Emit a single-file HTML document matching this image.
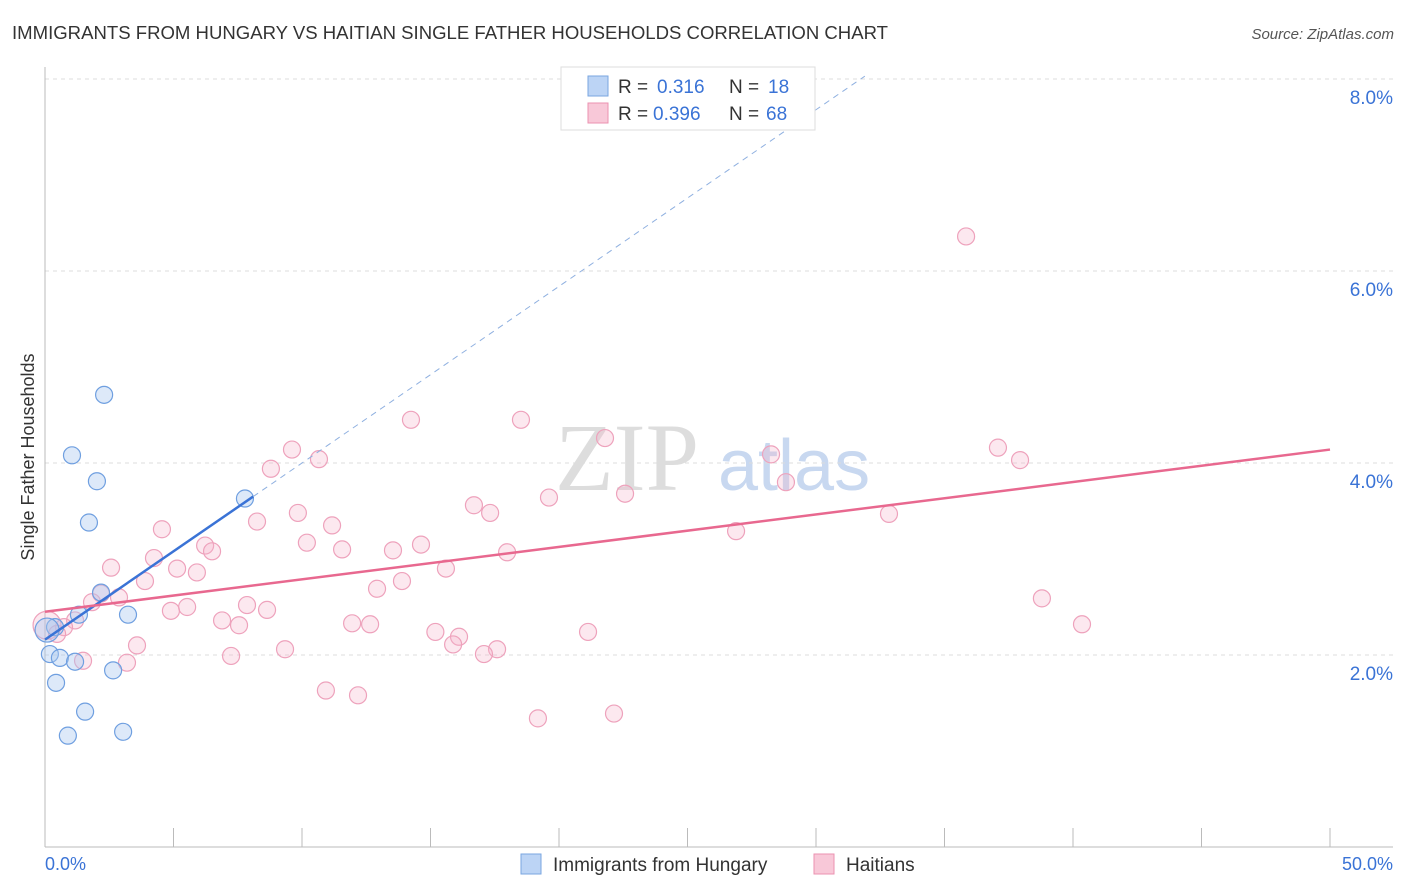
<!DOCTYPE html>
<html><head><meta charset="utf-8"><style>
body{margin:0;background:#fff;font-family:"Liberation Sans",sans-serif}
</style></head><body>
<svg id="c" width="1406" height="892" style="display:block">
<text x="12" y="39" font-size="18" fill="#333" textLength="876" lengthAdjust="spacingAndGlyphs">IMMIGRANTS FROM HUNGARY VS HAITIAN SINGLE FATHER HOUSEHOLDS CORRELATION CHART</text>
<text x="1394" y="39" font-size="15" fill="#555" font-style="italic" text-anchor="end">Source: ZipAtlas.com</text>
<text x="34" y="457" font-size="18" fill="#333" text-anchor="middle" transform="rotate(-90 34 457)">Single Father Households</text>
<text x="555" y="490" font-size="96" fill="#ddd" font-family="Liberation Serif,serif">ZIP</text>
<text x="718" y="490" font-size="72" fill="#c8d8f0">atlas</text>
<g id="grid"></g><g id="pts"></g><g id="lines"></g>
<g>
<rect x="561" y="67" width="254" height="63" fill="#fff" stroke="#ddd"/>
<rect x="588" y="76" width="20" height="20" fill="#bcd4f5" stroke="#7aa6e0"/>
<text x="618" y="93" font-size="19" fill="#333">R =</text>
<text x="657" y="93" font-size="19" fill="#3a73d6">0.316</text>
<text x="729" y="93" font-size="19" fill="#333">N =</text>
<text x="768" y="93" font-size="19" fill="#3a73d6">18</text>
<rect x="588" y="103" width="20" height="20" fill="#f8c8d8" stroke="#eb92b0"/>
<text x="618" y="120" font-size="19" fill="#333">R =</text>
<text x="653" y="120" font-size="19" fill="#3a73d6">0.396</text>
<text x="729" y="120" font-size="19" fill="#333">N =</text>
<text x="766" y="120" font-size="19" fill="#3a73d6">68</text>
</g>
<g>
<rect x="521" y="854" width="20" height="20" fill="#bcd4f5" stroke="#7aa6e0"/>
<text x="553" y="871" font-size="19" fill="#333">Immigrants from Hungary</text>
<rect x="814" y="854" width="20" height="20" fill="#f8c8d8" stroke="#eb92b0"/>
<text x="846" y="871" font-size="19" fill="#333">Haitians</text>
</g>
<text x="45" y="870" font-size="18" fill="#3a73d6">0.0%</text>
<text x="1393" y="870" font-size="18" fill="#3a73d6" text-anchor="end">50.0%</text>
</svg>
<script>
const yTicks=[2,4,6,8];
const blueX=[2.30,1.05,2.02,1.71,7.78,2.18,1.32,3.23,0.39,0.19,0.58,1.17,2.65,0.43,1.56,0.89,3.04,0.08];
const blueY=[4.71,4.08,3.81,3.38,3.63,2.65,2.42,2.42,2.29,2.01,1.97,1.93,1.84,1.71,1.41,1.16,1.20,2.26];
const pinkX=[35.84,14.24,18.52,21.79,9.61,37.08,28.25,10.66,37.94,8.79,28.83,22.57,19.61,16.69,9.84,17.32,32.84,8.25,11.17,4.55,26.89,10.19,6.23,14.63,6.50,11.56,13.54,17.98,4.24,2.57,5.14,5.91,15.60,3.89,13.89,12.92,2.18,2.88,1.83,38.79,7.86,5.53,4.90,8.64,6.89,1.17,7.55,11.95,12.65,40.35,0.74,0.08,15.19,21.13,16.11,0.47,3.58,15.88,9.34,17.59,17.08,7.24,1.48,3.19,10.93,12.18,22.14,19.18];
const pinkY=[6.36,4.45,4.45,4.26,4.14,4.16,4.09,4.04,4.03,3.94,3.80,3.68,3.64,3.56,3.48,3.48,3.47,3.39,3.35,3.31,3.29,3.17,3.14,3.15,3.08,3.10,3.09,3.07,3.01,2.91,2.90,2.86,2.90,2.77,2.77,2.69,2.64,2.60,2.55,2.59,2.52,2.50,2.46,2.47,2.36,2.36,2.31,2.33,2.32,2.32,2.29,2.31,2.24,2.24,2.19,2.22,2.10,2.11,2.06,2.06,2.01,1.99,1.94,1.92,1.63,1.58,1.39,1.34];
const blueTrend=[2.16,0.184];
const pinkTrend=[2.45,0.0338];
const ns='http://www.w3.org/2000/svg';
const sx=v=>45+v*25.7, sy=v=>847-v*96;
function mk(t,a,p){const e=document.createElementNS(ns,t);for(const k in a)e.setAttribute(k,a[k]);p.appendChild(e);return e;}
const g=document.getElementById('grid');
yTicks.forEach(t=>{
 const l=mk('line',{x1:45,x2:1393,y1:sy(t),y2:sy(t),stroke:'#ddd','stroke-dasharray':'4,4'},g);
 
 
 const tx=mk('text',{x:1393,y:sy(t)+25,'font-size':19,fill:'#3a73d6','text-anchor':'end'},g);
 tx.textContent=t.toFixed(1)+'%';
 
 
});
mk('line',{x1:45,x2:45,y1:67,y2:847,stroke:'#bbb'},g);
mk('line',{x1:45,x2:1393,y1:847,y2:847,stroke:'#bbb'},g);
for(let i=0;i<=10;i++){const t=mk('line',{x1:sx(i*5),x2:sx(i*5),y1:828,y2:847,stroke:'#bbb'},g);
 
 }
const p=document.getElementById('pts');
pinkX.forEach((x,i)=>{const c=mk('circle',{cx:sx(x),cy:sy(pinkY[i]),r:i==51?14:8.5,fill:'rgba(246,180,203,0.3)',stroke:'#eea2bc','stroke-width':1.2},p);
 
 });
blueX.forEach((x,i)=>{const c=mk('circle',{cx:sx(x),cy:sy(blueY[i]),r:i==17?12:8.5,fill:'rgba(170,200,240,0.4)',stroke:'#6f9fe0','stroke-width':1.2},p);
 
 });
const L=document.getElementById('lines');
const bl=mk('line',{x1:sx(0),y1:sy(blueTrend[0]),x2:sx(8.1),y2:sy(blueTrend[0]+blueTrend[1]*8.1),stroke:'#3a73d6','stroke-width':2.5},L);


const bd=mk('line',{x1:sx(8.1),y1:sy(blueTrend[0]+blueTrend[1]*8.1),x2:sx(31.9),y2:sy(blueTrend[0]+blueTrend[1]*31.9),stroke:'#8fb0e0','stroke-width':1,'stroke-dasharray':'6,5'},L);


const pl=mk('line',{x1:sx(0),y1:sy(pinkTrend[0]),x2:sx(50),y2:sy(pinkTrend[0]+pinkTrend[1]*50),stroke:'#e8688f','stroke-width':2.5},L);


</script>
</body></html>
